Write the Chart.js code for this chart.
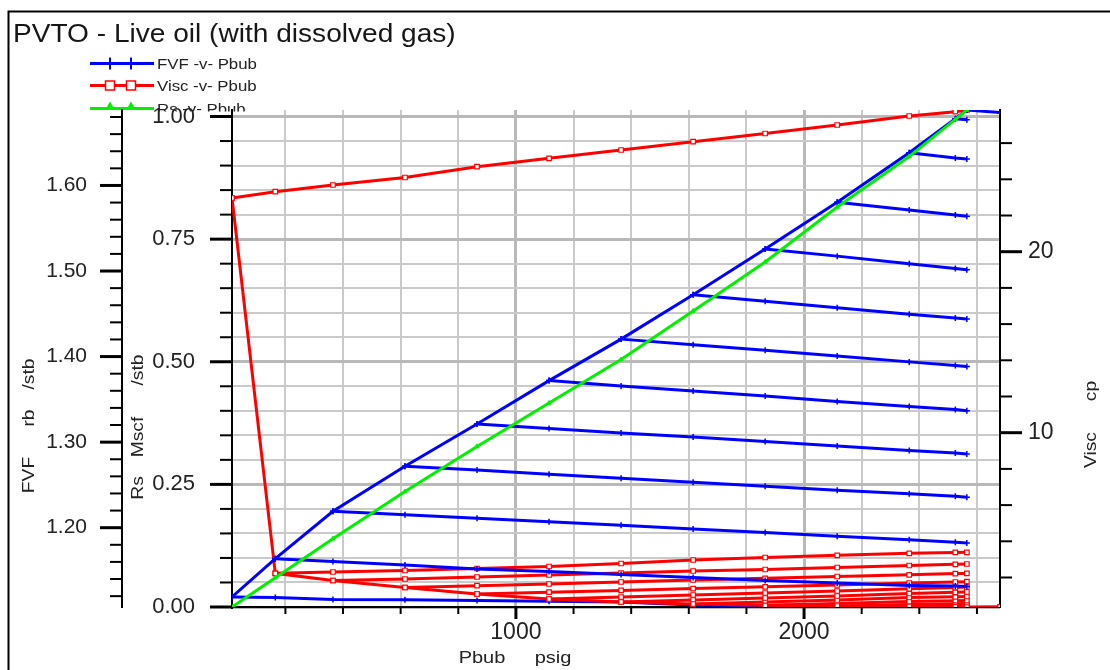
<!DOCTYPE html>
<html>
<head>
<meta charset="utf-8">
<title>PVTO - Live oil</title>
<script src="https://cdn.jsdelivr.net/npm/chart.js@4.4.0/dist/chart.umd.min.js"></script>
<style>
  html, body { margin: 0; padding: 0; background: #fff; }
</style>
</head>
<body>
<canvas id="pvto" width="1110" height="670"></canvas>
<script>
// pressure grid (psig): the bubble points plus the top undersaturated pressure
const pGrid = [14.7, 165, 365, 615, 865, 1115, 1365, 1615, 1865, 2115, 2365, 2525, 2565, 2680];

// solution gas at each bubble point pGrid[0..12], Mscf/stb
const rsSat = [0, 0.0597, 0.1393, 0.2355, 0.3272, 0.4159, 0.5046, 0.6035, 0.7034, 0.8155, 0.9185, 0.9941, 1.0133];

// FVF rows, rb/stb: row i starts at its bubble point pGrid[i] and runs up the grid
const fvfRows = [
  [1.1190, 1.1184, 1.1161, 1.1158, 1.1149, 1.1140, 1.1130, 1.1097, 1.1088, 1.1083, 1.1078, 1.1075, 1.1073],
  [1.1638, 1.1606, 1.1565, 1.1518, 1.1489, 1.1454, 1.1419, 1.1384, 1.1354, 1.1325, 1.1317, 1.1313],
  [1.2192, 1.2151, 1.2110, 1.2069, 1.2028, 1.1984, 1.1943, 1.1899, 1.1858, 1.1831, 1.1821],
  [1.2719, 1.2673, 1.2626, 1.2579, 1.2532, 1.2485, 1.2438, 1.2397, 1.2368, 1.2356],
  [1.3212, 1.3159, 1.3106, 1.3059, 1.3006, 1.2954, 1.2901, 1.2872, 1.2860],
  [1.3719, 1.3657, 1.3598, 1.3540, 1.3475, 1.3417, 1.3381, 1.3367],
  [1.4204, 1.4137, 1.4073, 1.4008, 1.3938, 1.3897, 1.3883],
  [1.4723, 1.4647, 1.4571, 1.4494, 1.4450, 1.4438],
  [1.5258, 1.5174, 1.5086, 1.5030, 1.5016],
  [1.5804, 1.5713, 1.5654, 1.5640],
  [1.6383, 1.6322, 1.6310],
  [1.6781, 1.6769],
  [1.6882, 1.6852]
];

// viscosity rows, cp, laid out the same way as fvfRows
const viscRows = [
  [22.967, 23.315, 23.685, 24.099, 24.696, 25.160, 25.619, 26.077, 26.530, 27.000, 27.497, 27.735, 27.829],
  [2.232, 2.304, 2.387, 2.497, 2.608, 2.773, 2.967, 3.105, 3.227, 3.337, 3.387, 3.392],
  [1.834, 1.917, 2.028, 2.138, 2.249, 2.359, 2.442, 2.553, 2.663, 2.729, 2.746],
  [1.448, 1.547, 1.641, 1.751, 1.862, 1.956, 2.055, 2.149, 2.215, 2.227],
  [1.088, 1.188, 1.287, 1.387, 1.486, 1.586, 1.696, 1.751, 1.768],
  [0.812, 0.923, 1.033, 1.144, 1.254, 1.376, 1.448, 1.475],
  [0.646, 0.757, 0.867, 0.978, 1.116, 1.182, 1.199],
  [0.536, 0.646, 0.757, 0.895, 0.934, 0.950],
  [0.464, 0.564, 0.674, 0.718, 0.729],
  [0.425, 0.508, 0.552, 0.564],
  [0.398, 0.442, 0.453],
  [0.381, 0.392],
  [0.370, 0.378]
];

// tick spacing and labelled ticks per axis
const pStep = 200,    pLabels = [1000, 2000];
const rsStep = 0.05,  rsLabels = [0, 0.25, 0.5, 0.75, 1.0];
const fvfStep = 0.02, fvfLabels = [1.2, 1.3, 1.4, 1.5, 1.6];
const viscStep = 2,   viscLabels = [10, 20];

const BLUE = '#0000ff', RED = '#ff0000', GREEN = '#00f000';
const FONT = '"Liberation Sans", Arial, sans-serif';

const allFvf = fvfRows.flat(), allVisc = viscRows.flat();

function rowPoints(values, start) {
  return values.map((v, k) => ({x: pGrid[start + k], y: v}));
}
function stepTicks(min, max, step) {
  const out = [];
  for (let k = Math.ceil(min / step - 1e-9); k * step <= max + 1e-9; k++) {
    out.push({value: +(k * step).toFixed(4)});
  }
  return out;
}
function labelled(v, list) {
  return list.some(l => Math.abs(l - v) < 1e-6);
}

const fvfStyle = {
  borderColor: BLUE, borderWidth: 3, pointStyle: 'cross', pointRadius: 3,
  pointBorderColor: BLUE, pointBorderWidth: 1.5, yAxisID: 'yFvf'
};
const viscStyle = {
  borderColor: RED, borderWidth: 3, pointStyle: 'rect', pointRadius: 3.2,
  pointBackgroundColor: '#fff', pointBorderColor: RED, pointBorderWidth: 1.2, yAxisID: 'yVisc'
};
const rsStyle = {
  borderColor: GREEN, borderWidth: 3, pointStyle: 'triangle', pointRadius: 2.5,
  pointBackgroundColor: GREEN, pointBorderColor: GREEN, pointBorderWidth: 1, yAxisID: 'yRs'
};

// first dataset ends up on top
const datasets = [];
datasets.push({label: 'Rs -v- Pbub', data: rsSat.map((v, i) => ({x: pGrid[i], y: v})), ...rsStyle});
datasets.push({label: 'FVF -v- Pbub', data: fvfRows.map((r, i) => ({x: pGrid[i], y: r[0]})), ...fvfStyle});
fvfRows.forEach((r, i) => { if (i > 0) datasets.push({label: '', data: rowPoints(r, i), ...fvfStyle}); });
datasets.push({label: 'Visc -v- Pbub', data: viscRows.map((r, i) => ({x: pGrid[i], y: r[0]})), ...viscStyle});
viscRows.forEach((r, i) => datasets.push({label: '', data: rowPoints(r, i), ...viscStyle}));
datasets.push({label: '', data: rowPoints(fvfRows[0], 0), ...fvfStyle});

function wideText(ctx, text, x, y, angle, stretch) {
  ctx.save();
  ctx.translate(x, y);
  ctx.rotate(angle);
  ctx.scale(stretch, 1);
  ctx.fillText(text, 0, 0);
  ctx.restore();
}

const legendRows = [
  {text: 'FVF -v- Pbub', color: BLUE, mark: 'cross', y: 63.5},
  {text: 'Visc -v- Pbub', color: RED, mark: 'rect', y: 85.5},
  {text: 'Rs -v- Pbub', color: GREEN, mark: 'triangle', y: 108.5}
];

function legendMark(ctx, mark, x, y) {
  ctx.beginPath();
  if (mark === 'cross') {
    ctx.lineWidth = 2;
    ctx.moveTo(x, y - 6); ctx.lineTo(x, y + 6);
    ctx.stroke();
  } else if (mark === 'rect') {
    ctx.lineWidth = 1.5;
    ctx.fillStyle = '#fff';
    ctx.rect(x - 4.5, y - 4.5, 9, 9);
    ctx.fill(); ctx.stroke();
  } else {
    ctx.fillStyle = ctx.strokeStyle;
    ctx.moveTo(x, y - 7); ctx.lineTo(x + 4, y); ctx.lineTo(x - 4, y); ctx.closePath();
    ctx.fill();
  }
}

const decor = {
  id: 'decor',
  beforeDraw(chart) {
    const ctx = chart.ctx;
    ctx.save();
    ctx.fillStyle = '#fff';
    ctx.fillRect(0, 0, chart.width, chart.height);

    // outer frame
    ctx.strokeStyle = '#000';
    ctx.lineWidth = 2;
    ctx.beginPath();
    ctx.moveTo(8.5, chart.height); ctx.lineTo(8.5, 11.5); ctx.lineTo(chart.width, 11.5);
    ctx.stroke();

    // title
    ctx.fillStyle = '#161616';
    ctx.font = '26px ' + FONT;
    ctx.textAlign = 'left';
    ctx.textBaseline = 'alphabetic';
    wideText(ctx, 'PVTO - Live oil (with dissolved gas)', 13, 42, 0, 1.08);

    // legend, the last row runs under the plot panel
    legendRows.forEach((row, i) => {
      ctx.save();
      if (i === legendRows.length - 1) {
        ctx.beginPath(); ctx.rect(0, 0, chart.width, 111.5); ctx.clip();
      }
      ctx.strokeStyle = row.color;
      ctx.lineWidth = 3;
      ctx.beginPath(); ctx.moveTo(90, row.y); ctx.lineTo(154, row.y); ctx.stroke();
      legendMark(ctx, row.mark, 110, row.y);
      legendMark(ctx, row.mark, 131, row.y);
      ctx.fillStyle = '#222';
      ctx.font = '14px ' + FONT;
      ctx.textAlign = 'left';
      wideText(ctx, row.text, 157, row.y + 5, 0, 1.2);
      ctx.restore();
    });
    ctx.restore();
  },
  afterDraw(chart) {
    const ctx = chart.ctx;
    ctx.save();
    ctx.strokeStyle = '#000';
    const majors = {x: pLabels, yRs: rsLabels, yFvf: fvfLabels, yVisc: viscLabels};
    for (const id of Object.keys(majors)) {
      const s = chart.scales[id];
      s.ticks.forEach(t => {
        const major = labelled(t.value, majors[id]);
        const p = s.getPixelForValue(t.value);
        ctx.lineWidth = major ? 3 : 2;
        ctx.beginPath();
        if (id === 'x') {
          const len = major ? 12 : 7;
          ctx.moveTo(p, s.top); ctx.lineTo(p, s.top + len);
        } else if (s.position === 'left') {
          const len = major ? 22 : 12;
          ctx.moveTo(s.right - len, p); ctx.lineTo(s.right, p);
        } else {
          const len = major ? 22 : 12;
          ctx.moveTo(s.left, p); ctx.lineTo(s.left + len, p);
        }
        ctx.stroke();
      });
    }

    // axis titles
    ctx.fillStyle = '#222';
    ctx.font = '16px ' + FONT;
    ctx.textAlign = 'center';
    ctx.textBaseline = 'alphabetic';
    const up = -Math.PI / 2;
    [['FVF', 34, 475], ['rb', 34, 418], ['/stb', 34, 374],
     ['Rs', 143, 488], ['Mscf', 143, 437], ['/stb', 143, 370],
     ['Visc', 1096, 450], ['cp', 1096, 391]].forEach(([t, x, y]) => wideText(ctx, t, x, y, up, 1.2));
    [['Pbub', 482, 663], ['psig', 553, 663]].forEach(([t, x, y]) => wideText(ctx, t, x, y, 0, 1.25));
    ctx.restore();
  }
};

function axisGrid(labels) {
  return {
    drawTicks: false,
    color: c => labelled(c.tick.value, labels) ? '#b9b9b9' : '#cacaca',
    lineWidth: c => labelled(c.tick.value, labels) ? 3 : 2
  };
}

new Chart(document.getElementById('pvto'), {
  type: 'line',
  data: {datasets},
  options: {
    responsive: false,
    animation: false,
    events: [],
    layout: {padding: {left: 8, top: 110, right: 0, bottom: 0}},
    plugins: {legend: {display: false}, title: {display: false}, tooltip: {enabled: false}},
    elements: {line: {tension: 0, fill: false}},
    scales: {
      x: {
        type: 'linear', position: 'bottom',
        min: pGrid[0], max: pGrid[pGrid.length - 1],
        afterBuildTicks: s => { s.ticks = stepTicks(s.min, s.max, pStep); },
        afterFit: s => { s.height = 63; },
        grid: axisGrid(pLabels),
        border: {display: true, color: '#000', width: 2},
        ticks: {
          autoSkip: false, maxRotation: 0, padding: 12, color: '#222',
          font: {family: FONT, size: 23},
          callback: v => labelled(v, pLabels) ? String(v) : ''
        }
      },
      yRs: {
        type: 'linear', position: 'left', weight: 0,
        min: 0, max: Math.max(...rsSat),
        afterBuildTicks: s => { s.ticks = stepTicks(s.min, s.max, rsStep); },
        afterFit: s => { s.width = 110; },
        grid: axisGrid(rsLabels),
        border: {display: true, color: '#000', width: 2},
        ticks: {
          autoSkip: false, padding: 37, color: '#222',
          font: {family: FONT, size: 22},
          callback: v => labelled(v, rsLabels) ? v.toFixed(2) : ''
        }
      },
      yFvf: {
        type: 'linear', position: 'left', weight: 1,
        min: Math.min(...allFvf), max: Math.max(...allFvf),
        afterBuildTicks: s => { s.ticks = stepTicks(s.min, s.max, fvfStep); },
        afterFit: s => { s.width = 114; },
        grid: {drawOnChartArea: false, drawTicks: false},
        border: {display: true, color: '#000', width: 2},
        ticks: {
          autoSkip: false, padding: 35, color: '#222',
          font: {family: FONT, size: 21},
          callback: v => labelled(v, fvfLabels) ? v.toFixed(2) : ''
        }
      },
      yVisc: {
        type: 'linear', position: 'right',
        min: Math.min(...allVisc), max: Math.max(...allVisc),
        afterBuildTicks: s => { s.ticks = stepTicks(s.min, s.max, viscStep); },
        afterFit: s => { s.width = 110; },
        grid: {drawOnChartArea: false, drawTicks: false},
        border: {display: true, color: '#000', width: 2},
        ticks: {
          autoSkip: false, padding: 28, color: '#222',
          font: {family: FONT, size: 23},
          callback: v => labelled(v, viscLabels) ? String(v) : ''
        }
      }
    }
  },
  plugins: [decor]
});
</script>
</body>
</html>
